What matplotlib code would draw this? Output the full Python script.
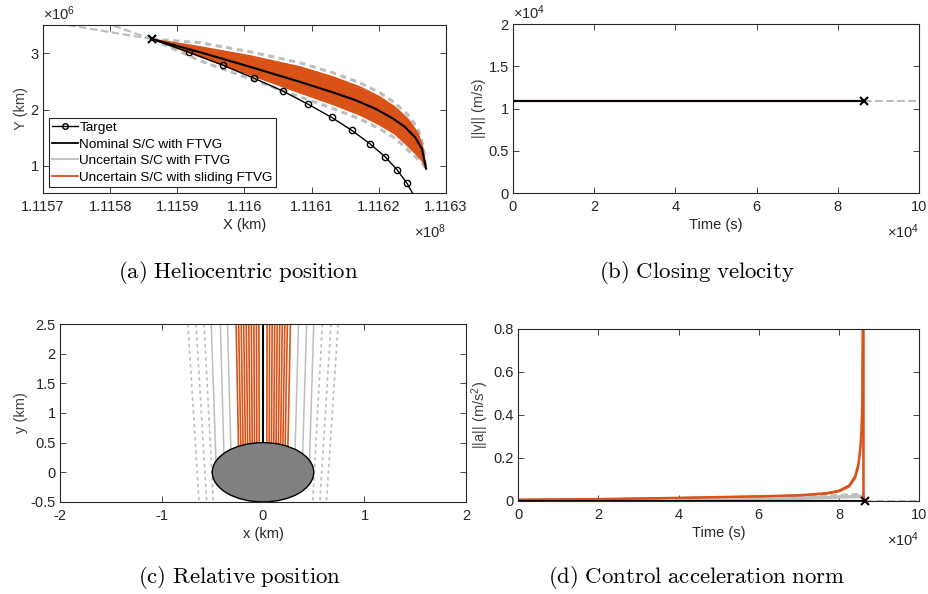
import numpy as np
import matplotlib
matplotlib.use("Agg")
import matplotlib.pyplot as plt
from matplotlib.patches import Ellipse
from matplotlib.lines import Line2D
from matplotlib.ticker import FuncFormatter

plt.rcParams["font.family"] = ["Liberation Sans", "DejaVu Sans"]
plt.rcParams["mathtext.fontset"] = "custom"
plt.rcParams["mathtext.rm"] = "Liberation Sans"
plt.rcParams["mathtext.it"] = "Liberation Sans:italic"
plt.rcParams["axes.unicode_minus"] = False

ORANGE = "#D95319"
GRAY = "#BEBEBE"
DARK = "#262626"

# ---- (a) heliocentric position (km) ----
target_x = [111586212, 111591716, 111596772, 111601433, 111605697, 111609514, 111612985,
            111616009, 111618637, 111620917, 111622702, 111624140, 111625033]
target_y = [3.249e6, 3.018e6, 2.786e6, 2.555e6, 2.329e6, 2.092e6, 1.861e6,
            1.629e6, 1.398e6, 1.166e6, 0.935e6, 0.703e6, 0.519e6]
nominal_x = [111586220, 111593408, 111600848, 111608289, 111612753, 111616473, 111619450,
             111622128, 111623914, 111625402, 111626444, 111627039]
nominal_y = [3.2503e6, 3.0153e6, 2.7572e6, 2.4901e6, 2.3210e6, 2.1697e6, 2.0183e6,
             1.8403e6, 1.6890e6, 1.5109e6, 1.2973e6, 0.9537e6]
band_x = [111586220, 111593408, 111600848, 111608289, 111613200, 111617217, 111620194,
          111622426, 111624360, 111625849, 111626593, 111627039]
band_up = [3.2503e6, 3.1132e6, 2.9529e6, 2.7572e6, 2.5791e6, 2.4011e6, 2.2231e6,
           2.0450e6, 1.8314e6, 1.5822e6, 1.3151e6, 0.9537e6]
band_lo = [3.2503e6, 2.9352e6, 2.6147e6, 2.2943e6, 2.0895e6, 1.9026e6, 1.7246e6,
           1.5644e6, 1.3507e6, 1.1727e6, 1.0659e6, 0.9537e6]
ftvg_up = [3.2503e6, 3.1845e6, 3.0242e6, 2.8284e6, 2.6503e6, 2.4723e6, 2.2943e6,
           2.1162e6, 1.9026e6, 1.6534e6, 1.3685e6, 0.9537e6]
ftvg_lo = [3.2503e6, 2.8640e6, 2.5435e6, 2.2231e6, 2.0183e6, 1.8314e6, 1.6534e6,
           1.4931e6, 1.2795e6, 1.1193e6, 1.0303e6, 0.9537e6]
tail1_x = [111586220, 111573318]
tail1_y = [3.2503e6, 3.505e6]
tail2_x = [111586220, 111580015]
tail2_y = [3.2503e6, 3.505e6]

# ---- (b) closing velocity ----
t_end = 86400
t_b = [0, t_end]
v_b = [10850, 10850]
t_after = [t_end, 100000]

# ---- (c) relative position (km) ----
orange_top = [-0.265, -0.24, -0.215, -0.19, -0.165, -0.14, -0.115, -0.09, -0.065, -0.04,
              0.04, 0.065, 0.09, 0.115, 0.14, 0.165, 0.19, 0.215, 0.24, 0.27]
orange_y0 = [-0.236, -0.214, -0.192, -0.170, -0.148, -0.126, -0.104, -0.082, -0.060, -0.037,
             0.037, 0.060, 0.082, 0.104, 0.126, 0.148, 0.170, 0.192, 0.214, 0.240]
gray_top = [-0.51, -0.42, -0.35, 0.35, 0.43, 0.50]
gray_y0 = [-0.46, -0.38, -0.31, 0.31, 0.385, 0.455]
dash_top = [-0.74, -0.66, -0.58, 0.585, 0.67, 0.74]
dash_bot = [-0.63, -0.555, -0.49, 0.49, 0.56, 0.625]
body_radius = 0.5

# ---- (d) control acceleration norm ----
t_acc = [0, 20000, 40000, 60000, 70000, 77000, 80000, 82500, 84000, 84800, 85300,
         85600, 85800, 85950, 86100, 86100]
acc_slide1 = [0.006, 0.009, 0.015, 0.022, 0.027, 0.037, 0.048, 0.072, 0.115, 0.17, 0.25,
              0.33, 0.47, 0.9, 0.9, 0.0]
acc_slide2 = [0.005, 0.008, 0.014, 0.021, 0.025, 0.034, 0.044, 0.066, 0.105, 0.155, 0.23,
              0.30, 0.42, 0.9, 0.9, 0.0]
t_g = [0, 20000, 40000, 60000, 70000, 77000, 80000, 83000, 85000, 86000, 86400]
acc_ftvg1 = [0.003, 0.006, 0.010, 0.015, 0.018, 0.022, 0.025, 0.028, 0.029, 0.030, 0.0]
acc_ftvg2 = [0.002, 0.004, 0.007, 0.011, 0.013, 0.016, 0.018, 0.020, 0.021, 0.022, 0.0]


def style(ax):
    ax.tick_params(direction="in", top=True, right=True, length=4, width=0.6,
                   colors=DARK, labelsize=10.5)
    ax.tick_params(axis="x", pad=5)
    ax.tick_params(axis="y", pad=3)
    for s in ax.spines.values():
        s.set_color(DARK)
        s.set_linewidth(0.8)


def mult(ax, text, where):
    if where == "top":
        ax.annotate(text, xy=(0, 1), xycoords="axes fraction", xytext=(0, 2),
                    textcoords="offset pixels", ha="left", va="bottom", fontsize=10.5, color=DARK)
    else:
        ax.annotate(text, xy=(1, 0), xycoords="axes fraction", xytext=(0, -29),
                    textcoords="offset pixels", ha="right", va="top", fontsize=10.5, color=DARK)


fig = plt.figure(figsize=(9.29, 5.94), dpi=100)

# (a)
ax = fig.add_axes([0.0463, 0.675, 0.4337, 0.283])
ax.plot(tail1_x, tail1_y, "--", color=GRAY, lw=1.5)
ax.plot(tail2_x, tail2_y, "--", color=GRAY, lw=1.5)
ax.plot(band_x, ftvg_up, "--", color=GRAY, lw=2.2, dashes=(2, 1.5))
ax.plot(band_x, ftvg_lo, "--", color=GRAY, lw=2.2, dashes=(2, 1.5))
ax.fill(np.r_[band_x, band_x[::-1]], np.r_[band_up, band_lo[::-1]], color=ORANGE, lw=0)
ax.plot(band_x, band_up, color=ORANGE, lw=1)
ax.plot(band_x, band_lo, color=ORANGE, lw=1)
ax.plot(nominal_x, nominal_y, color="black", lw=1.5)
ax.plot(target_x[1:-1], target_y[1:-1], "o", color="black", mfc="none", ms=4.5, mew=1)
ax.plot(target_x, target_y, color="black", lw=1)
ax.plot(target_x[0], target_y[0], "x", color="black", ms=6, mew=1.5)
ax.set_xlim(111570000, 111630000)
ax.set_ylim(0.52e6, 3.5e6)
ax.set_xticks([111570000 + 10000 * i for i in range(7)])
ax.set_yticks([1e6, 2e6, 3e6])
ax.xaxis.set_major_formatter(FuncFormatter(lambda v, p: f"{v / 1e8:g}"))
ax.yaxis.set_major_formatter(FuncFormatter(lambda v, p: f"{v / 1e6:g}"))
style(ax)
ax.set_xlabel("X (km)", fontsize=10.5, color=DARK, labelpad=3)
ax.set_ylabel("Y (km)", fontsize=10.5, color="#404040", labelpad=2)
mult(ax, r"$\times10^{6}$", "top")
mult(ax, r"$\times10^{8}$", "bottom")
handles = [Line2D([], [], color="black", lw=1, marker="o", mfc="none", ms=4, mew=1),
           Line2D([], [], color="black", lw=1.3),
           Line2D([], [], color=GRAY, lw=1.3),
           Line2D([], [], color=ORANGE, lw=1.3)]
labels = ["Target", "Nominal S/C with FTVG", "Uncertain S/C with FTVG",
          "Uncertain S/C with sliding FTVG"]
leg = ax.legend(handles, labels, loc="lower left", fontsize=9.7, frameon=True, fancybox=False,
                edgecolor=DARK, framealpha=1, borderaxespad=0.45, borderpad=0.25,
                labelspacing=0.3, handlelength=1.9, handletextpad=0.1)
leg.get_frame().set_linewidth(0.8)

# (b)
ax = fig.add_axes([0.5522, 0.675, 0.4370, 0.2845])
ax.plot(t_after, v_b, "--", color=GRAY, lw=1.5)
ax.plot(t_b, v_b, color=ORANGE, lw=1.6)
ax.plot(t_b, v_b, color="black", lw=1.5)
ax.plot(t_b[-1], v_b[-1], "x", color="black", ms=6, mew=1.5)
ax.set_xlim(0, 100000)
ax.set_ylim(0, 20000)
ax.set_xticks(range(0, 100001, 20000))
ax.set_yticks(range(0, 20001, 5000))
ax.xaxis.set_major_formatter(FuncFormatter(lambda v, p: f"{v / 1e4:g}"))
ax.yaxis.set_major_formatter(FuncFormatter(lambda v, p: f"{v / 1e4:g}"))
style(ax)
ax.set_xlabel("Time (s)", fontsize=10.5, color=DARK, labelpad=3)
ax.set_ylabel("||v|| (m/s)", fontsize=10.5, color="#404040", labelpad=2)
mult(ax, r"$\times10^{4}$", "top")
mult(ax, r"$\times10^{4}$", "bottom")

# (c)
ax = fig.add_axes([0.0646, 0.155, 0.437, 0.2995])
for xt, xb in zip(dash_top, dash_bot):
    ax.plot([xt, xb], [2.5, -0.5], "--", color=GRAY, lw=1.2, dashes=(2, 2))
for xt, x0 in zip(gray_top, gray_y0):
    ax.plot([xt, x0], [2.5, 0], color=GRAY, lw=1.1)
for xt, x0 in zip(orange_top, orange_y0):
    ax.plot([xt, x0], [2.5, 0], color=ORANGE, lw=1.2)
ax.plot([0, 0], [2.5, 0], color="black", lw=1.5)
ax.add_patch(Ellipse((0, 0), 2 * body_radius, 2 * body_radius, facecolor="#808080",
                     edgecolor="black", lw=1, zorder=5))
ax.set_xlim(-2, 2)
ax.set_ylim(-0.5, 2.5)
ax.set_xticks([-2, -1, 0, 1, 2])
ax.set_yticks([-0.5, 0, 0.5, 1, 1.5, 2, 2.5])
ax.xaxis.set_major_formatter(FuncFormatter(lambda v, p: f"{v:g}"))
ax.yaxis.set_major_formatter(FuncFormatter(lambda v, p: f"{v:g}"))
style(ax)
ax.set_xlabel("x (km)", fontsize=10.5, color=DARK, labelpad=3)
ax.set_ylabel("y (km)", fontsize=10.5, color="#404040", labelpad=2)

# (d)
ax = fig.add_axes([0.5576, 0.1566, 0.4319, 0.2896])
ax.plot(t_after, [0, 0], "--", color=GRAY, lw=1.5)
ax.plot(t_g, acc_ftvg2, color=GRAY, lw=2.5)
ax.plot(t_g, acc_ftvg1, "--", color=GRAY, lw=2.5, dashes=(2, 1))
ax.plot(t_acc, acc_slide2, color=ORANGE, lw=1.4)
ax.plot(t_acc, acc_slide1, color=ORANGE, lw=1.6)
ax.plot([0, t_end], [0, 0], color="black", lw=1.5)
ax.plot(t_end, 0, "x", color="black", ms=6, mew=1.5, clip_on=False, zorder=6)
ax.set_xlim(0, 100000)
ax.set_ylim(0, 0.8)
ax.set_xticks(range(0, 100001, 20000))
ax.set_yticks([0, 0.2, 0.4, 0.6, 0.8])
ax.xaxis.set_major_formatter(FuncFormatter(lambda v, p: f"{v / 1e4:g}"))
ax.yaxis.set_major_formatter(FuncFormatter(lambda v, p: f"{v:g}"))
style(ax)
ax.set_xlabel("Time (s)", fontsize=10.5, color=DARK, labelpad=3)
ax.set_ylabel(r"||a|| (m/s$^{2}$)", fontsize=10.5, color="#404040", labelpad=2)
mult(ax, r"$\times10^{4}$", "bottom")

# captions
caps = [(0.257, 0.542, "(a)\\ Heliocentric\\ position"),
        (0.750, 0.542, "(b)\\ Closing\\ velocity"),
        (0.258, 0.027, "(c)\\ Relative\\ position"),
        (0.750, 0.027, "(d)\\ Control\\ acceleration\\ norm")]
for cx, cy, s in caps:
    fig.text(cx, cy, "$\\mathrm{" + s + "}$", ha="center", va="center", fontsize=16.4,
             math_fontfamily="cm", color="black")

fig.savefig("out.png", dpi=100)
